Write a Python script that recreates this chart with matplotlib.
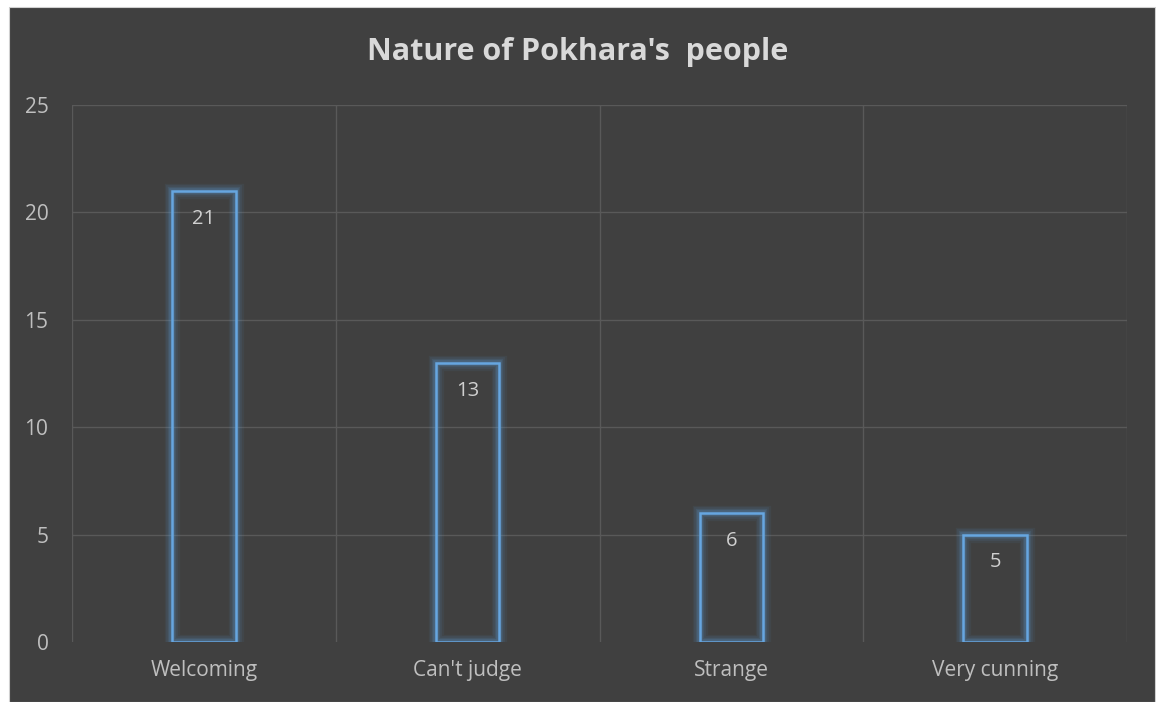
import matplotlib.pyplot as plt
import numpy as np

# chart data
categories = ['Welcoming', "Can't judge", 'Strange', 'Very cunning']
counts = [21, 13, 6, 5]
yticks = [0, 5, 10, 15, 20, 25]

bg = '#404040'
grid_col = '#595959'
text_col = '#bfbfbf'
bar_col = '#5b9bd5'

plt.rcParams['font.family'] = ['Open Sans', 'DejaVu Sans']

fig = plt.figure(figsize=(11.56, 7.02), dpi=100, facecolor='white')
# dark chart area with the thin white margin at left/top
fig.patches.append(plt.Rectangle((9 / 1156, 0), 1146 / 1156, 695 / 702,
                                 transform=fig.transFigure, facecolor=bg,
                                 edgecolor='#d0d0d0', linewidth=0.8, zorder=-10))

ax = fig.add_axes([72 / 1156, 60 / 702, 1055 / 1156, 537 / 702])
ax.set_facecolor(bg)
ax.patch.set_alpha(0)

x = np.arange(len(categories))

# glow: layered wide translucent edges
for lw, a in [(11, 0.07), (8.5, 0.09), (6, 0.13), (4, 0.2)]:
    ax.bar(x, counts, width=0.24, facecolor='none', edgecolor=bar_col,
           linewidth=lw, alpha=a, zorder=3)
ax.bar(x, counts, width=0.24, facecolor='none', edgecolor='#66a6e0',
       linewidth=1.8, zorder=4)

for xi, v in zip(x, counts):
    ax.annotate(str(v), (xi, v), xytext=(0, -20), textcoords='offset points',
                ha='center', va='center', color='#d0d0d0', fontsize=14.5, zorder=5)

ax.set_xlim(-0.5, len(categories) - 0.5)
ax.set_ylim(0, 25)
ax.set_yticks(yticks)
ax.set_xticks(x)
ax.set_xticklabels(categories)

# horizontal gridlines
for y in yticks[1:]:
    ax.axhline(y, color=grid_col, linewidth=1, zorder=1)
# vertical gridlines at category boundaries
for b in np.arange(-0.5, len(categories), 1.0):
    ax.axvline(b, color=grid_col, linewidth=1, zorder=1)

for s in ax.spines.values():
    s.set_visible(False)
ax.tick_params(axis='both', length=0, labelcolor=text_col, labelsize=15)
ax.tick_params(axis='y', pad=17)
ax.tick_params(axis='x', pad=13)

fig.text(0.5, 1 - 52 / 702, "Nature of Pokhara's  people", ha='center', va='center',
         color='#d9d9d9', fontsize=22, fontweight='bold')

fig.savefig('out.png', dpi=100, facecolor='white')
